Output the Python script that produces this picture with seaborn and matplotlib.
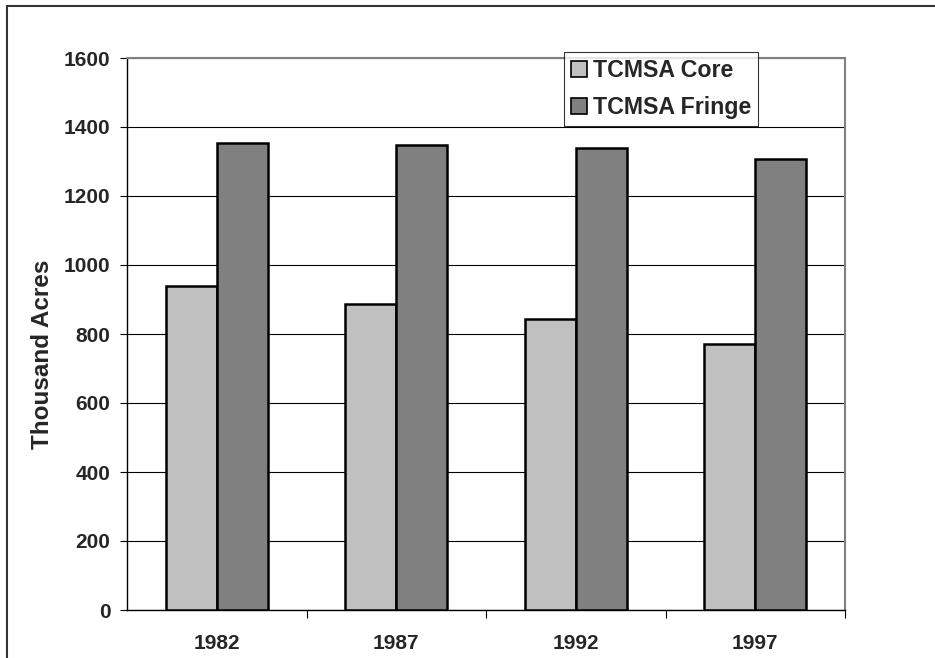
import matplotlib
matplotlib.use("Agg")
import matplotlib.pyplot as plt
import seaborn as sns
import pandas as pd
from matplotlib.patches import Rectangle

years = ["1982", "1987", "1992", "1997"]
core = [940, 887, 843, 770]
fringe = [1353, 1348, 1340, 1306]
series = ["TCMSA Core", "TCMSA Fringe"]
colors = ["#c0c0c0", "#808080"]

df = pd.DataFrame({
    "year": years * 2,
    "acres": core + fringe,
    "series": [series[0]] * 4 + [series[1]] * 4,
})

sns.set_style("white")
plt.rcParams["font.family"] = ["Liberation Sans", "DejaVu Sans"]
plt.rcParams["font.weight"] = "bold"

fig = plt.figure(figsize=(9.35, 6.58), dpi=100)
ax = fig.add_axes([127 / 935, 1 - 610 / 658, (845 - 127) / 935, (610 - 58) / 658])

sns.barplot(data=df, x="year", y="acres", hue="series", palette=colors,
            width=0.57, gap=0, edgecolor="black", linewidth=1.8, ax=ax,
            saturation=1, zorder=3)

ax.set_ylim(0, 1600)
ax.set_xlim(-0.5, 3.5)
ax.set_yticks(range(0, 1601, 200))
ax.yaxis.grid(True, color="black", linewidth=0.8, zorder=0)
ax.set_axisbelow(True)
ax.tick_params(axis="y", direction="out", length=5, width=0.8, color="black",
               labelsize=15, pad=7, left=True)
ax.tick_params(axis="x", which="major", length=0, labelsize=15, pad=17)
ax.set_xticks([0.5, 1.5, 2.5, 3.5], minor=True)
ax.tick_params(axis="x", which="minor", direction="out", length=6, width=0.8,
               color="black", bottom=True)
for lab in ax.get_xticklabels() + ax.get_yticklabels():
    lab.set_fontweight("bold")

ax.set_xlabel("")
ax.set_ylabel("Thousand Acres", fontsize=17.5, fontweight="bold")
ax.yaxis.set_label_coords((43 - 127) / 718, (610 - 354) / 552)
ax.yaxis.label.set_va("center")

for side in ["left", "bottom"]:
    ax.spines[side].set_color("black")
    ax.spines[side].set_linewidth(1)
for side in ["top", "right"]:
    ax.spines[side].set_color("#808080")
    ax.spines[side].set_linewidth(1.5)

leg = ax.legend(loc="upper left", bbox_to_anchor=(564 / 935, 1 - 52 / 658),
                bbox_transform=fig.transFigure, frameon=True, fancybox=False,
                prop={"size": 16.7, "weight": "bold"}, handlelength=0.7,
                handleheight=0.7, handletextpad=0.25, borderpad=0.3,
                labelspacing=0.6, borderaxespad=0)
leg.get_frame().set_edgecolor("black")
leg.get_frame().set_linewidth(0.8)
leg.set_zorder(10)
for h in leg.legend_handles:
    h.set_edgecolor("black")
    h.set_linewidth(1.2)

fig.patches.append(Rectangle((7 / 935, -0.1), 1.1, 1 - 6 / 658 + 0.1,
                             transform=fig.transFigure, fill=False,
                             edgecolor="#333333", linewidth=1.5))

fig.savefig("out.png", dpi=100)
